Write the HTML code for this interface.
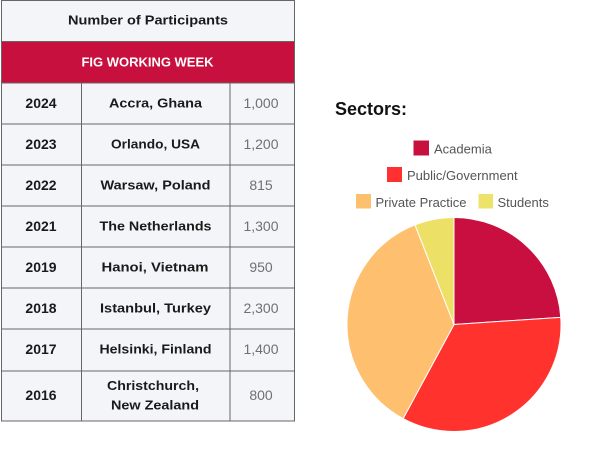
<!DOCTYPE html>
<html><head><meta charset="utf-8"><style>
html,body{margin:0;padding:0;background:#fff;}
svg{display:block;}
</style></head><body>
<svg width="600" height="464" viewBox="0 0 600 464" xmlns="http://www.w3.org/2000/svg" font-family="'Liberation Sans', Arial, sans-serif">
<rect x="0" y="0" width="600" height="464" fill="#fff"/>
<!-- table -->
<rect x="1.5" y="0.5" width="293" height="420.5" fill="#f3f5f9"/>
<rect x="1.5" y="41.5" width="293" height="41.5" fill="#c8103e"/>
<g stroke="#666" stroke-width="1" fill="none">
<rect x="1.5" y="0.5" width="293" height="420.5"/>
<line x1="1.5" y1="41.5" x2="294.5" y2="41.5"/>
<line x1="1.5" y1="83" x2="294.5" y2="83"/>
<line x1="1.5" y1="124" x2="294.5" y2="124"/>
<line x1="1.5" y1="165" x2="294.5" y2="165"/>
<line x1="1.5" y1="206" x2="294.5" y2="206"/>
<line x1="1.5" y1="247" x2="294.5" y2="247"/>
<line x1="1.5" y1="288" x2="294.5" y2="288"/>
<line x1="1.5" y1="329" x2="294.5" y2="329"/>
<line x1="1.5" y1="371" x2="294.5" y2="371"/>
<line x1="81.5" y1="83" x2="81.5" y2="421"/>
<line x1="230" y1="83" x2="230" y2="421"/>
</g>
<g font-weight="bold" font-size="13" text-anchor="middle" fill="#1a1a1a">
<text x="148" y="24.5" textLength="160" lengthAdjust="spacingAndGlyphs">Number of Participants</text>
<text x="147.5" y="66.5" fill="#fff" textLength="132" lengthAdjust="spacingAndGlyphs">FIG WORKING WEEK</text>
</g>
<g font-weight="bold" font-size="14" text-anchor="middle" fill="#1a1a1a">
<text x="41" y="108">2024</text>
<text x="41" y="149">2023</text>
<text x="41" y="190">2022</text>
<text x="41" y="231">2021</text>
<text x="41" y="272">2019</text>
<text x="41" y="313">2018</text>
<text x="41" y="354">2017</text>
<text x="41" y="400">2016</text>
</g>
<g font-weight="bold" font-size="13" text-anchor="middle" fill="#1a1a1a">
<text x="155.5" y="107.5" textLength="93" lengthAdjust="spacingAndGlyphs">Accra, Ghana</text>
<text x="155.5" y="148.5" textLength="89" lengthAdjust="spacingAndGlyphs">Orlando, USA</text>
<text x="155.5" y="189.5" textLength="110" lengthAdjust="spacingAndGlyphs">Warsaw, Poland</text>
<text x="155.5" y="230.5" textLength="112" lengthAdjust="spacingAndGlyphs">The Netherlands</text>
<text x="155" y="271.5" textLength="107" lengthAdjust="spacingAndGlyphs">Hanoi, Vietnam</text>
<text x="155.5" y="312.5" textLength="111" lengthAdjust="spacingAndGlyphs">Istanbul, Turkey</text>
<text x="155.5" y="353.5" textLength="112" lengthAdjust="spacingAndGlyphs">Helsinki, Finland</text>
<text x="153" y="390" textLength="92" lengthAdjust="spacingAndGlyphs">Christchurch,</text>
<text x="155" y="409.5" textLength="88" lengthAdjust="spacingAndGlyphs">New Zealand</text>
</g>
<g font-size="14" text-anchor="middle" fill="#707070">
<text x="261" y="108">1,000</text>
<text x="261" y="149">1,200</text>
<text x="261" y="190">815</text>
<text x="261" y="231">1,300</text>
<text x="261" y="272">950</text>
<text x="261" y="313">2,300</text>
<text x="261" y="354">1,400</text>
<text x="261" y="400">800</text>
</g>
<!-- sectors -->
<text x="335" y="115" font-size="18" font-weight="bold" fill="#111">Sectors:</text>
<g font-size="13" fill="#555">
<rect x="413.5" y="140.5" width="15.5" height="15" fill="#c8103e"/>
<text x="434" y="153.5">Academia</text>
<rect x="387" y="167" width="15" height="15" fill="#ff3030"/>
<text x="407" y="180">Public/Government</text>
<rect x="356" y="194" width="15" height="14.5" fill="#fdc06e"/>
<text x="375.5" y="207">Private Practice</text>
<rect x="478.5" y="194" width="14.5" height="14.5" fill="#ede36a"/>
<text x="497.5" y="207">Students</text>
</g>
<!-- pie -->
<g stroke="#fff" stroke-width="1" stroke-linejoin="round">
<path d="M454,324.5 L454,217.5 A107,107 0 0,1 560.76,317.32 Z" fill="#c90f3f"/>
<path d="M454,324.5 L560.76,317.32 A107,107 0 0,1 403.11,418.62 Z" fill="#ff322e"/>
<path d="M454,324.5 L403.11,418.62 A107,107 0 0,1 414.96,224.87 Z" fill="#fec06e"/>
<path d="M454,324.5 L414.96,224.87 A107,107 0 0,1 454,217.5 Z" fill="#ede066"/>
</g>
</svg>
</body></html>
